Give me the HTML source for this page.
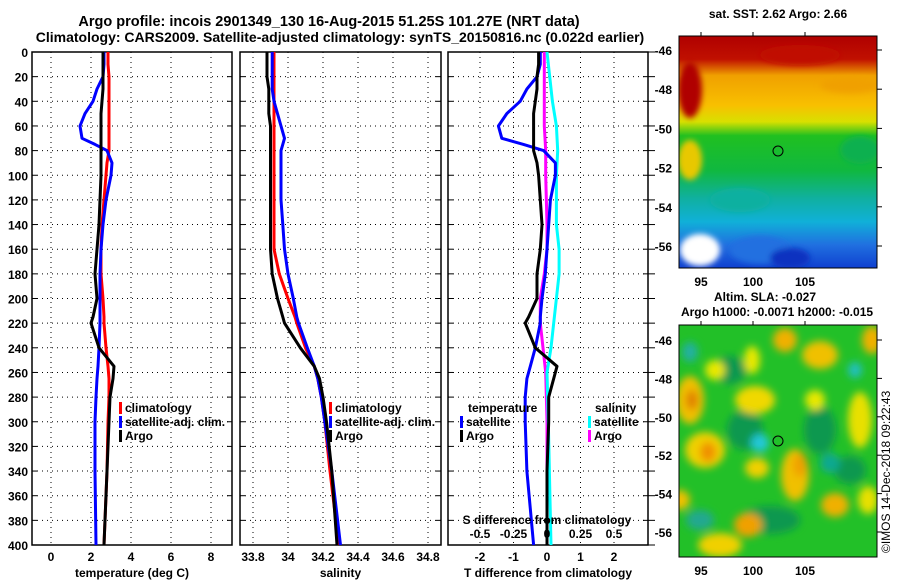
<!DOCTYPE html>
<html><head><meta charset="utf-8"><style>
body{margin:0;background:#fff;}
svg{display:block;font-family:"Liberation Sans",sans-serif;font-weight:bold;}
</style></head><body>
<svg id="c" width="900" height="580" viewBox="0 0 900 580">
<defs>
<filter id="bl" x="-30%" y="-30%" width="160%" height="160%"><feGaussianBlur stdDeviation="4"/></filter>
<filter id="bl2" x="-20%" y="-20%" width="140%" height="140%"><feGaussianBlur stdDeviation="3"/></filter>
<clipPath id="cm1"><rect x="679" y="36" width="198" height="232"/></clipPath>
<clipPath id="cm2"><rect x="679" y="325" width="198" height="232"/></clipPath>
<linearGradient id="sst" x1="0" y1="0" x2="0" y2="1">
<stop offset="0" stop-color="#b00000"/><stop offset="0.1" stop-color="#c01000"/>
<stop offset="0.17" stop-color="#f0a000"/><stop offset="0.3" stop-color="#f8c000"/>
<stop offset="0.37" stop-color="#d8e000"/><stop offset="0.43" stop-color="#20c020"/>
<stop offset="0.58" stop-color="#10b840"/><stop offset="0.7" stop-color="#10b0a0"/>
<stop offset="0.8" stop-color="#10b0d8"/><stop offset="0.9" stop-color="#2070e0"/>
<stop offset="1" stop-color="#1040d0"/></linearGradient>
</defs>
<text x="329" y="26" font-size="14.5" text-anchor="middle">Argo profile: incois 2901349_130 16-Aug-2015 51.25S 101.27E (NRT data)</text>
<text x="340" y="42" font-size="14" text-anchor="middle">Climatology: CARS2009. Satellite-adjusted climatology: synTS_20150816.nc (0.022d earlier)</text>
<g id="plots"></g>
<g>
<text x="778" y="18" font-size="12" text-anchor="middle">sat. SST: 2.62 Argo: 2.66</text>
<g clip-path="url(#cm1)">
<rect x="679" y="36" width="198" height="232" fill="url(#sst)"/>
<g filter="url(#bl2)">
<ellipse cx="690" cy="90" rx="12" ry="28" fill="#b00000"/>
<ellipse cx="690" cy="160" rx="12" ry="20" fill="#e8c800"/>
<ellipse cx="800" cy="55" rx="40" ry="10" fill="#c01000"/>
<ellipse cx="850" cy="85" rx="30" ry="8" fill="#f0a000"/>
<ellipse cx="860" cy="150" rx="20" ry="14" fill="#10b050"/>
<ellipse cx="740" cy="200" rx="30" ry="12" fill="#10b0a0"/>
<ellipse cx="700" cy="250" rx="20" ry="16" fill="#ffffff"/>
<ellipse cx="760" cy="250" rx="30" ry="14" fill="#2070e0"/>
<ellipse cx="790" cy="258" rx="20" ry="10" fill="#1030c0"/>
</g></g>
<rect x="679" y="36" width="198" height="232" fill="none" stroke="#000" stroke-width="1"/>
<circle cx="778" cy="151" r="5" fill="none" stroke="#000"/>
</g>
<g>
<text x="765" y="301" font-size="12" text-anchor="middle">Altim. SLA: -0.027</text>
<text x="777" y="316" font-size="12" text-anchor="middle">Argo h1000: -0.0071 h2000: -0.015</text>
<g clip-path="url(#cm2)">
<rect x="679" y="325" width="198" height="232" fill="#22c028"/>
<g filter="url(#bl)">
<ellipse cx="730" cy="370" rx="16" ry="14" fill="#109850"/>
<ellipse cx="745" cy="430" rx="18" ry="20" fill="#109850"/>
<ellipse cx="820" cy="430" rx="16" ry="24" fill="#109850"/>
<ellipse cx="770" cy="520" rx="30" ry="14" fill="#109850"/>
<ellipse cx="850" cy="470" rx="16" ry="14" fill="#109850"/>
<ellipse cx="690" cy="400" rx="14" ry="24" fill="#f0c000"/>
<ellipse cx="692" cy="400" rx="6" ry="10" fill="#e08000"/>
<ellipse cx="705" cy="450" rx="20" ry="18" fill="#f0d000"/>
<ellipse cx="708" cy="452" rx="8" ry="10" fill="#f09000"/>
<ellipse cx="715" cy="370" rx="10" ry="10" fill="#e8e800"/>
<ellipse cx="755" cy="400" rx="20" ry="14" fill="#f0d800"/>
<ellipse cx="752" cy="360" rx="8" ry="14" fill="#e8e800"/>
<ellipse cx="785" cy="340" rx="12" ry="12" fill="#f0b000"/>
<ellipse cx="820" cy="355" rx="18" ry="14" fill="#f0c000"/>
<ellipse cx="872" cy="340" rx="10" ry="14" fill="#f0b000"/>
<ellipse cx="795" cy="475" rx="14" ry="26" fill="#f0c000"/>
<ellipse cx="800" cy="465" rx="7" ry="12" fill="#f0a000"/>
<ellipse cx="757" cy="468" rx="12" ry="10" fill="#f0d000"/>
<ellipse cx="835" cy="505" rx="14" ry="12" fill="#f0b000"/>
<ellipse cx="748" cy="525" rx="14" ry="12" fill="#f0a000"/>
<ellipse cx="720" cy="545" rx="22" ry="12" fill="#f0d000"/>
<ellipse cx="860" cy="420" rx="12" ry="28" fill="#e8e000"/>
<ellipse cx="815" cy="400" rx="10" ry="10" fill="#e8e800"/>
<ellipse cx="868" cy="500" rx="10" ry="14" fill="#e8e000"/>
<ellipse cx="680" cy="500" rx="10" ry="10" fill="#f0c000"/>
<ellipse cx="760" cy="443" rx="9" ry="9" fill="#20c8d8"/>
<ellipse cx="855" cy="370" rx="7" ry="8" fill="#20c0c0"/>
<ellipse cx="700" cy="520" rx="14" ry="10" fill="#20a890"/>
<ellipse cx="830" cy="463" rx="10" ry="10" fill="#10a890"/>
<ellipse cx="690" cy="352" rx="8" ry="10" fill="#20b0a0"/>
</g></g>
<rect x="679" y="325" width="198" height="232" fill="none" stroke="#000"/>
<circle cx="778" cy="441" r="5" fill="none" stroke="#000"/>
</g>
<text transform="translate(890,553) rotate(-90)" font-size="12" font-weight="normal">©IMOS 14-Dec-2018 09:22:43</text>
</svg>
<script>
const depths=[0,10,20,30,40,50,60,70,75,80,90,100,120,140,160,180,200,215,220,240,255,265,280,300,340,400];
const argoT=[2.6,2.6,2.6,2.6,2.55,2.5,2.5,2.5,2.5,2.5,2.5,2.5,2.45,2.4,2.3,2.2,2.3,2.1,2.0,2.4,3.15,3.1,2.95,2.9,2.8,2.65];
const climT=[2.85,2.85,2.9,2.9,2.9,2.9,2.9,2.9,2.9,2.9,2.8,2.75,2.65,2.55,2.5,2.5,2.6,2.65,2.65,2.75,2.85,2.9,2.9,2.85,2.8,2.65];
const satT=[2.65,2.65,2.6,2.3,2.1,1.7,1.45,1.55,2.2,2.8,3.05,3.0,2.75,2.6,2.5,2.45,2.45,2.45,2.45,2.4,2.35,2.3,2.25,2.2,2.2,2.25];
const argoS=[33.88,33.88,33.88,33.89,33.89,33.89,33.9,33.9,33.9,33.9,33.9,33.9,33.9,33.9,33.9,33.91,33.94,33.97,33.98,34.07,34.15,34.18,34.2,34.22,34.25,34.28];
const climS=[33.92,33.92,33.92,33.92,33.92,33.92,33.92,33.92,33.92,33.92,33.92,33.92,33.92,33.92,33.92,33.95,34.0,34.04,34.05,34.1,34.15,34.17,34.19,34.21,34.24,34.29];
const satS=[33.91,33.91,33.91,33.91,33.92,33.94,33.96,33.98,33.97,33.96,33.96,33.96,33.96,33.97,33.98,34.0,34.03,34.05,34.06,34.11,34.15,34.17,34.19,34.21,34.25,34.3];
const sdDepths=[0,20,40,60,80,100,140,160,180,200,220,240,260,300,400];
const satSd=[0.0,0.02,0.04,0.07,0.08,0.07,0.07,0.09,0.09,0.07,0.05,0.03,0.0,0.01,0.03];
const argoSd=[-0.02,-0.02,-0.02,-0.02,-0.01,-0.01,0.0,0.0,-0.02,-0.05,-0.05,-0.03,-0.01,0.0,0.0];
const depthTicks=[0,20,40,60,80,100,120,140,160,180,200,220,240,260,280,300,320,340,360,380,400];
const tTicks=[0,2,4,6,8];
const sTicks=[33.8,34,34.2,34.4,34.6,34.8];
const tdTicks=[-2,-1,0,1,2];
const sdTicks=[-0.5,-0.25,0,0.25,0.5];
const sdTickLabels=["-0.5","-0.25","0","0.25","0.5"];

const NS='http://www.w3.org/2000/svg';
const root=document.getElementById('plots');
function mk(t,a,p){const e=document.createElementNS(NS,t);for(const k in a)e.setAttribute(k,a[k]);(p||root).appendChild(e);return e;}
const Y0=52,Y1=545;
const yD=d=>Y0+(Y1-Y0)*d/400;
const panels=[
 {x0:32,x1:232,f:v=>51+20*v},
 {x0:240,x1:441,f:v=>253+175*(v-33.8)},
 {x0:448,x1:648,f:v=>547+33.5*v}
];
const fSd=v=>547+134*v;

function panel(p,ticks,labels,name,xlabel){
 const g=mk('g',{});
 
 
 ticks.forEach((t,i)=>{const x=p.f(t);
  const l=mk('line',{x1:x,x2:x,y1:Y0,y2:Y1,stroke:'#000','stroke-dasharray':'1,4'},g);
  
  
  const tx=mk('text',{x:x,y:Y1+16,'font-size':12,'text-anchor':'middle'},g);
  
  
  tx.textContent=labels?labels[i]:String(t);
 });
 depthTicks.forEach(d=>{const y=yD(d);
  const l=mk('line',{x1:p.x0,x2:p.x1,y1:y,y2:y,stroke:'#000','stroke-dasharray':'1,4'},g);
  
  
  mk('line',{x1:p.x0,x2:p.x0+5,y1:y,y2:y,stroke:'#000'},g);
  mk('line',{x1:p.x1-5,x2:p.x1,y1:y,y2:y,stroke:'#000'},g);
 });
 const r=mk('rect',{x:p.x0,y:Y0,width:p.x1-p.x0,height:Y1-Y0,fill:'none',stroke:'#000','stroke-width':1.5},g);
 
 
 const xl=mk('text',{x:(p.x0+p.x1)/2,y:577,'font-size':12,'text-anchor':'middle'},g);
 
 
 xl.textContent=xlabel;
 return g;
}
function line(g,xs,ds,f,col,name){
 const pts=xs.map((v,i)=>f(v).toFixed(1)+','+yD(ds[i]).toFixed(1)).join(' ');
 const pl=mk('polyline',{points:pts,fill:'none',stroke:col,'stroke-width':3,'stroke-linejoin':'round'},g);
 
 
}
function legend(g,x,y,items){
 items.forEach((it,i)=>{const yy=y+i*14;
  mk('rect',{x:x,y:yy-10,width:3,height:12,fill:it[1]},g);
  const t=mk('text',{x:x+6,y:yy,'font-size':12},g);
  
  
  t.textContent=it[0];
 });
}
depthTicks.forEach(d=>{const t=mk('text',{x:28,y:yD(d)+5,'font-size':12,'text-anchor':'end'});
 
 
 t.textContent=String(d);
 mk('line',{x1:648,x2:655,y1:yD(d),y2:yD(d),stroke:'#000'});
});
const g1=panel(panels[0],tTicks,null,'temperature-panel','temperature (deg C)');
line(g1,climT,depths,panels[0].f,'#ff0000','climatology-temperature-line');
line(g1,satT,depths,panels[0].f,'#0000ff','satellite-temperature-line');
line(g1,argoT,depths,panels[0].f,'#000000','argo-temperature-line');
legend(g1,119,412,[['climatology','#ff0000'],['satellite-adj. clim.','#0000ff'],['Argo','#000']]);
const g2=panel(panels[1],sTicks,["33.8","34","34.2","34.4","34.6","34.8"],'salinity-panel','salinity');
line(g2,climS,depths,panels[1].f,'#ff0000','climatology-salinity-line');
line(g2,satS,depths,panels[1].f,'#0000ff','satellite-salinity-line');
line(g2,argoS,depths,panels[1].f,'#000000','argo-salinity-line');
legend(g2,329,412,[['climatology','#ff0000'],['satellite-adj. clim.','#0000ff'],['Argo','#000']]);
const g3=panel(panels[2],tdTicks,null,'difference-panel','T difference from climatology');
line(g3,argoSd,sdDepths,fSd,'#ff00ff','argo-salinity-diff-line');
line(g3,satSd,sdDepths,fSd,'#00ffff','satellite-salinity-diff-line');
line(g3,satT.map((v,i)=>v-climT[i]),depths,panels[2].f,'#0000ff','satellite-temperature-diff-line');
line(g3,argoT.map((v,i)=>v-climT[i]),depths,panels[2].f,'#000000','argo-temperature-diff-line');
sdTicks.forEach((t,i)=>{const tx=mk('text',{x:fSd(t),y:538,'font-size':12,'text-anchor':'middle'},g3);
 
 
 tx.textContent=sdTickLabels[i];});
const st=mk('text',{x:547,y:524,'font-size':12,'text-anchor':'middle'},g3);


st.textContent='S difference from climatology';
const lt=mk('text',{x:468,y:412,'font-size':12},g3);lt.textContent='temperature';


legend(g3,460,426,[['satellite','#0000ff'],['Argo','#000']]);
const ls=mk('text',{x:595,y:412,'font-size':12},g3);ls.textContent='salinity';


legend(g3,588,426,[['satellite','#00ffff'],['Argo','#ff00ff']]);
const lats=[-46,-48,-50,-52,-54,-56];
const lons=[95,100,105];
const svg=document.getElementById('c');
function mapAxes(top,bot,ly0,ly1){
 lats.forEach(la=>{const y=ly0+(la+46)/(-10)*(ly1-ly0);
  const t=mk('text',{x:672,y:y+5,'font-size':12,'text-anchor':'end'},svg);
  
  
  t.textContent=String(la);
  mk('line',{x1:877,x2:882,y1:y,y2:y,stroke:'#000'},svg);});
 lons.forEach(lo=>{const x=701+(lo-95)*10.4;
  mk('line',{x1:x,x2:x,y1:top-4,y2:top,stroke:'#000'},svg);
  const t=mk('text',{x:x,y:bot+18,'font-size':12,'text-anchor':'middle'},svg);
  
  
  t.textContent=String(lo);});
}
mapAxes(36,268,50,246);
mapAxes(325,557,340,532);
</script>
</body></html>
